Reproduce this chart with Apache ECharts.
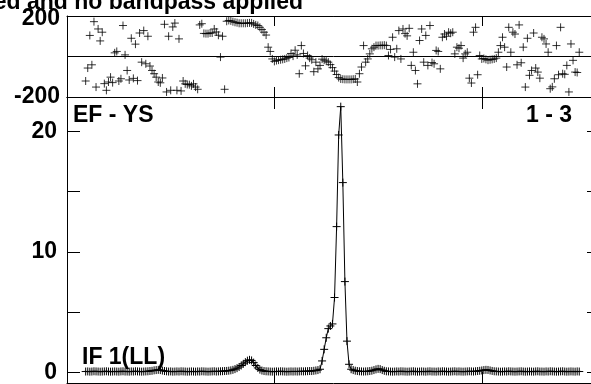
<!DOCTYPE html>
<html><head><meta charset="utf-8">
<script src="https://cdn.jsdelivr.net/npm/echarts@6/dist/echarts.min.js"></script>
<style>html,body{margin:0;padding:0;background:#fff;overflow:hidden;width:591px;height:384px}#c{width:610px;height:384px}</style>
</head><body><div id="c"></div>
<script>
// ---- data ----
const firstChannel = 9;
const phase = [
  -121,-57,104,-41,172,-151,136,77,120,-134,
  -167,-126,-102,-129,18,25,-121,-110,153,8,
  -69,-116,90,-108,61,-119,116,-28,128,-36,
  100,-47,-69,-85,-102,-126,-130,-106,159,-175,
  100,-167,146,165,-167,87,-170,-121,-135,-138,
  -139,-145,-135,-151,-162,156,162,114,113,113,
  116,116,136,121,105,-3,100,-162,174,178,
  176,172,169,167,164,164,164,164,165,166,
  166,161,156,153,144,133,120,106,46,25,
  -12,-24,-20,-18,-16,-14,-12,-8,-5,15,
  2,31,8,-85,54,15,-46,5,-8,-16,
  -75,-28,-61,-44,-13,-18,-23,-28,-40,-55,
  -72,-89,-104,-111,-112,-113,-113,-113,-113,-112,
  -111,-126,-85,-52,54,-28,-12,13,38,46,
  54,54,55,55,56,54,5,35,95,-3,
  38,128,-12,136,113,102,139,-44,21,-69,
  -135,79,136,-28,104,-44,153,-30,-36,30,
  25,-61,95,111,100,120,115,120,13,46,
  41,54,-8,13,21,-107,-131,120,144,-90,
  5,-12,-10,-14,-18,-16,-14,-12,-8,21,
  54,95,46,-52,144,21,120,111,-41,156,
  -31,46,-151,90,-93,-69,116,-57,-77,-107,
  95,87,62,21,-159,-150,-110,54,-90,144,
  -85,-88,-44,-175,62,-19,-77,-79,21
];
const amplitude = [
  0.08,0.09,0.07,0.08,0.10,0.09,0.08,0.07,0.08,0.09,
  0.10,0.08,0.07,0.08,0.09,0.08,0.07,0.09,0.10,0.08,
  0.08,0.07,0.09,0.08,0.10,0.09,0.08,0.07,0.08,0.09,
  0.10,0.12,0.14,0.18,0.20,0.22,0.20,0.16,0.12,0.10,
  0.08,0.09,0.07,0.08,0.09,0.08,0.10,0.09,0.08,0.07,
  0.08,0.09,0.08,0.07,0.09,0.08,0.10,0.09,0.08,0.07,
  0.08,0.09,0.10,0.08,0.09,0.10,0.11,0.12,0.13,0.15,
  0.18,0.22,0.28,0.36,0.46,0.58,0.72,0.86,0.98,1.05,
  1.00,0.82,0.58,0.38,0.24,0.16,0.12,0.10,0.09,0.08,
  0.07,0.08,0.09,0.08,0.10,0.09,0.08,0.07,0.08,0.09,
  0.08,0.09,0.08,0.09,0.10,0.09,0.10,0.11,0.12,0.12,
  0.14,0.17,0.20,0.27,0.96,1.92,2.88,3.64,3.86,4.03,
  6.22,12.1,19.7,22.05,15.75,7.54,2.6,0.68,0.27,0.20,
  0.15,0.12,0.10,0.09,0.08,0.09,0.10,0.12,0.15,0.20,
  0.26,0.30,0.28,0.20,0.14,0.10,0.09,0.08,0.07,0.08,
  0.09,0.08,0.10,0.09,0.08,0.07,0.08,0.09,0.10,0.08,
  0.07,0.08,0.09,0.08,0.07,0.09,0.10,0.08,0.08,0.07,
  0.09,0.08,0.10,0.09,0.08,0.07,0.08,0.09,0.10,0.08,
  0.09,0.08,0.07,0.08,0.09,0.10,0.09,0.08,0.10,0.12,
  0.14,0.17,0.20,0.22,0.21,0.17,0.13,0.10,0.09,0.08,
  0.07,0.08,0.09,0.08,0.10,0.09,0.08,0.07,0.08,0.09,
  0.10,0.08,0.07,0.08,0.09,0.08,0.07,0.09,0.10,0.08,
  0.08,0.07,0.09,0.08,0.10,0.09,0.08,0.07,0.08,0.09,
  0.10,0.08,0.07,0.08,0.09,0.08,0.07,0.09,0.08
];
const xTickValues = [100, 200];
const ampTickValues = [0, 5, 10, 15, 20];
const ampLabelValues = [0, 10, 20];
const titleText = 'ed and no bandpass applied';
const baselineText = 'EF - YS';
const pairText = '1 - 3';
const ifText = 'IF 1(LL)';

// ---- build ----
const channels = phase.map((_, i) => firstChannel + i);
const phaseData = channels.map((c, i) => [c, phase[i]]);
const ampData = channels.map((c, i) => [c, amplitude[i]]);

const PLUS = 'path://M0,-1L0,1M-1,0L1,0';
const FAM = '"Liberation Sans", Arial, sans-serif';
const BLACK = '#000';

function xAx(grid, pos, len) {
  return {
    type: 'value', gridIndex: grid, position: pos, min: 0, max: 257,
    axisLine: { show: true, onZero: false, lineStyle: { color: BLACK, width: 1 } },
    axisTick: { show: true, inside: true, length: len, customValues: xTickValues, lineStyle: { color: BLACK, width: 1 } },
    axisLabel: { show: false }, splitLine: { show: false }
  };
}
const labelStyle = { fontFamily: FAM, fontWeight: 'bold', fontSize: 23, color: BLACK };

const option = {
  backgroundColor: '#fff',
  animation: false,
  grid: [
    { left: 67, top: 16, width: 533, height: 81 },
    { left: 67, top: 97, width: 533, height: 289 }
  ],
  xAxis: [xAx(0, 'bottom', 10), xAx(0, 'top', 10), xAx(1, 'bottom', 12), xAx(1, 'top', 12)],
  yAxis: [
    {
      type: 'value', gridIndex: 0, position: 'left', min: -200, max: 200, interval: 200,
      axisLine: { show: true, onZero: false, lineStyle: { color: BLACK, width: 1 } },
      axisTick: { show: false },
      axisLabel: Object.assign({ margin: 7, showMinLabel: true, showMaxLabel: true,
        formatter: v => (v === 0 ? '' : (v > 0 ? '{t|' + v + '}' : String(v))),
        rich: { t: Object.assign({ padding: [6, 0, 0, 0] }, labelStyle) } }, labelStyle),
      splitLine: { show: true, lineStyle: { color: BLACK, width: 1 } }
    },
    {
      type: 'value', gridIndex: 0, position: 'right', min: -200, max: 200,
      axisLine: { show: true, onZero: false, lineStyle: { color: BLACK, width: 1 } },
      axisTick: { show: false }, axisLabel: { show: false }, splitLine: { show: false }
    },
    {
      type: 'value', gridIndex: 1, position: 'left', min: -0.904, max: 22.85,
      axisLine: { show: true, onZero: false, lineStyle: { color: BLACK, width: 1 } },
      axisTick: { show: true, inside: true, length: 13, customValues: ampTickValues, lineStyle: { color: BLACK, width: 1 } },
      axisLabel: Object.assign({ margin: 10, customValues: ampLabelValues, padding: [3, 0, 0, 0] }, labelStyle),
      splitLine: { show: false }
    },
    {
      type: 'value', gridIndex: 1, position: 'right', min: -0.904, max: 22.85,
      axisLine: { show: true, onZero: false, lineStyle: { color: BLACK, width: 1 } },
      axisTick: { show: true, inside: true, length: 13, customValues: ampTickValues, lineStyle: { color: BLACK, width: 1 } },
      axisLabel: { show: false }, splitLine: { show: false }
    }
  ],
  series: [
    {
      type: 'scatter', xAxisIndex: 0, yAxisIndex: 0, data: phaseData,
      symbol: PLUS, symbolSize: 8, silent: true,
      itemStyle: { color: 'rgba(0,0,0,0)', borderColor: BLACK, borderWidth: 1 }
    },
    {
      type: 'line', xAxisIndex: 2, yAxisIndex: 2, data: ampData,
      symbol: PLUS, symbolSize: 8, showSymbol: true, showAllSymbol: true, silent: true,
      itemStyle: { color: 'rgba(0,0,0,0)', borderColor: BLACK, borderWidth: 1 },
      lineStyle: { color: BLACK, width: 1 }
    }
  ],
  graphic: [
    { type: 'text', x: 303, y: 3, silent: true,
      style: { text: titleText, fill: BLACK, font: 'bold 23px ' + FAM, textAlign: 'right', align: 'right', textVerticalAlign: 'middle', verticalAlign: 'middle' } },
    { type: 'text', x: 73, y: 116, silent: true,
      style: { text: baselineText, fill: BLACK, font: 'bold 23px ' + FAM, textAlign: 'left', align: 'left', textVerticalAlign: 'middle', verticalAlign: 'middle' } },
    { type: 'text', x: 572, y: 116, silent: true,
      style: { text: pairText, fill: BLACK, font: 'bold 23px ' + FAM, textAlign: 'right', align: 'right', textVerticalAlign: 'middle', verticalAlign: 'middle' } },
    { type: 'text', x: 82, y: 358, silent: true,
      style: { text: ifText, fill: BLACK, font: 'bold 23px ' + FAM, textAlign: 'left', align: 'left', textVerticalAlign: 'middle', verticalAlign: 'middle' } }
  ]
};
const chart = echarts.init(document.getElementById('c'), null, { renderer: 'canvas' });
chart.setOption(option);
</script>
</body></html>
